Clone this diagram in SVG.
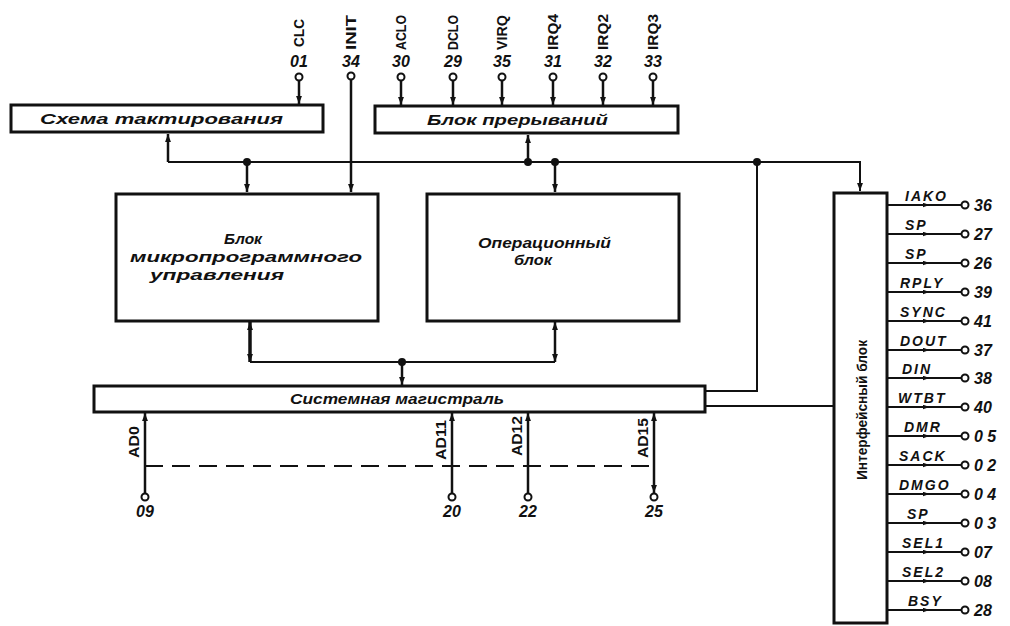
<svg xmlns="http://www.w3.org/2000/svg" width="1010" height="626" viewBox="0 0 1010 626">
<style>
.box{fill:#fff;stroke:#111;stroke-width:3}
.ln{fill:none;stroke:#111;stroke-width:2.5}
.pl{fill:none;stroke:#111;stroke-width:2}
.pin{fill:#fff;stroke:#111;stroke-width:2}
.dot{fill:#111}
.it{font-family:"Liberation Sans",Arial,sans-serif;font-style:italic;font-weight:bold;fill:#111}
.vt{font-family:"Liberation Sans",Arial,sans-serif;font-weight:bold;fill:#111}
.bt{font-size:14px}
.num{font-size:16px}
.rl{font-size:14px;letter-spacing:2px}
</style>
<defs>
<marker id="ah" markerWidth="8" markerHeight="11" refX="11" refY="4" orient="auto-start-reverse" markerUnits="userSpaceOnUse" viewBox="0 0 11 8"><path d="M0,0 L11,4 L0,8 z" fill="#111"/></marker>
<marker id="sm" markerWidth="7" markerHeight="5" refX="3.5" refY="2.5" orient="auto" markerUnits="userSpaceOnUse" viewBox="0 0 7 5"><path d="M0,0 L7,2.5 L0,5 z" fill="#111"/></marker>
</defs>
<rect width="1010" height="626" fill="#fff"/>

<g id="connectors">
  <path class="ln" d="M299,81 V104" marker-end="url(#ah)"/>
  <path class="ln" d="M351,80 V192" marker-end="url(#ah)"/>
  <path class="ln" d="M401,81 V105" marker-end="url(#ah)"/>
  <path class="ln" d="M453,81 V105" marker-end="url(#ah)"/>
  <path class="ln" d="M502,81 V105" marker-end="url(#ah)"/>
  <path class="ln" d="M553,81 V105" marker-end="url(#ah)"/>
  <path class="ln" d="M603,81 V105" marker-end="url(#ah)"/>
  <path class="ln" d="M653,81 V105" marker-end="url(#ah)"/>
  <path class="pl" d="M168,162 H860 V191" marker-end="url(#ah)"/>
  <path class="ln" d="M168,162 V134" marker-end="url(#ah)"/>
  <path class="ln" d="M247,162 V192" marker-end="url(#ah)"/>
  <path class="ln" d="M528,162 V135" marker-end="url(#ah)"/>
  <path class="ln" d="M555,162 V192" marker-end="url(#ah)"/>
  <path class="pl" d="M757,162 V391 H706"/>
  <circle class="dot" cx="247" cy="162" r="4"/>
  <circle class="dot" cx="528" cy="162" r="4"/>
  <circle class="dot" cx="555" cy="162" r="4"/>
  <circle class="dot" cx="757" cy="162" r="4"/>
  <path class="ln" d="M250,322 V362" style="stroke-width:3.5" marker-start="url(#ah)" marker-end="url(#ah)"/>
  <path class="ln" d="M555,322 V362" marker-start="url(#ah)" marker-end="url(#ah)"/>
  <path class="pl" d="M250,362 H555"/>
  <path class="ln" d="M402,362 V385" marker-end="url(#ah)"/>
  <circle class="dot" cx="402" cy="362" r="4"/>
  <path class="pl" d="M706,406 H834"/>
  <path class="ln" d="M145,493 V413" marker-end="url(#ah)"/>
  <path class="ln" d="M452,493 V413" marker-end="url(#ah)"/>
  <path class="ln" d="M528,493 V413" marker-end="url(#ah)"/>
  <path class="ln" d="M654,413 V493" marker-start="url(#ah)" marker-end="url(#ah)"/>
  <path class="pl" d="M145,466 H654" stroke-dasharray="18,9"/>
  <g class="pl">
    <path d="M887,205 H926 H961" marker-mid="url(#sm)"/>
    <path d="M887,234 H926 H961" marker-mid="url(#sm)"/>
    <path d="M887,263 H926 H961" marker-mid="url(#sm)"/>
    <path d="M887,292 H926 H961" marker-mid="url(#sm)"/>
    <path d="M887,321 H926 H961" marker-mid="url(#sm)"/>
    <path d="M887,350 H926 H961" marker-mid="url(#sm)"/>
    <path d="M887,378 H926 H961" marker-mid="url(#sm)"/>
    <path d="M887,407 H926 H961" marker-mid="url(#sm)"/>
    <path d="M887,436 H926 H961" marker-mid="url(#sm)"/>
    <path d="M887,465 H926 H961" marker-mid="url(#sm)"/>
    <path d="M887,494 H926 H961" marker-mid="url(#sm)"/>
    <path d="M887,523 H926 H961" marker-mid="url(#sm)"/>
    <path d="M887,552 H926 H961" marker-mid="url(#sm)"/>
    <path d="M887,581 H926 H961" marker-mid="url(#sm)"/>
    <path d="M887,610 H926 H961" marker-mid="url(#sm)"/>
  </g>
</g>

<g id="pins-top">
  <g class="pin">
    <circle cx="299" cy="77" r="3.5"/><circle cx="351" cy="76" r="3.5"/>
    <circle cx="401" cy="77" r="3.5"/><circle cx="453" cy="77" r="3.5"/>
    <circle cx="502" cy="77" r="3.5"/><circle cx="553" cy="77" r="3.5"/>
    <circle cx="603" cy="77" r="3.5"/><circle cx="653" cy="77" r="3.5"/>
  </g>
  <g class="it num" text-anchor="middle">
    <text x="299" y="67">01</text><text x="351" y="67">34</text>
    <text x="401" y="67">30</text><text x="453" y="67">29</text>
    <text x="502" y="67">35</text><text x="553" y="67">31</text>
    <text x="603" y="67">32</text><text x="653" y="67">33</text>
  </g>
  <g class="vt" font-size="15">
    <text transform="translate(304,47) rotate(-90)" textLength="28" lengthAdjust="spacingAndGlyphs">CLC</text>
    <text transform="translate(356,50) rotate(-90)" textLength="35" lengthAdjust="spacingAndGlyphs">INIT</text>
    <text transform="translate(406,50) rotate(-90)" textLength="35" lengthAdjust="spacingAndGlyphs">ACLO</text>
    <text transform="translate(458,50) rotate(-90)" textLength="35" lengthAdjust="spacingAndGlyphs">DCLO</text>
    <text transform="translate(507,50) rotate(-90)" textLength="35" lengthAdjust="spacingAndGlyphs">VIRQ</text>
    <text transform="translate(558,50) rotate(-90)" textLength="36" lengthAdjust="spacingAndGlyphs">IRQ4</text>
    <text transform="translate(608,50) rotate(-90)" textLength="36" lengthAdjust="spacingAndGlyphs">IRQ2</text>
    <text transform="translate(658,50) rotate(-90)" textLength="36" lengthAdjust="spacingAndGlyphs">IRQ3</text>
  </g>
</g>

<g id="clock">
  <rect class="box" x="11" y="105" width="312" height="27"/>
  <text class="it bt" x="40" y="124" textLength="243" lengthAdjust="spacingAndGlyphs">Схема  тактирования</text>
</g>
<g id="interrupts">
  <rect class="box" x="375" y="106" width="303" height="27"/>
  <text class="it bt" x="427" y="125" textLength="181" lengthAdjust="spacingAndGlyphs">Блок  прерываний</text>
</g>
<g id="microprogram">
  <rect class="box" x="116" y="194" width="262" height="127"/>
  <text class="it bt" x="224" y="244" textLength="38" lengthAdjust="spacingAndGlyphs">Блок</text>
  <text class="it bt" x="130" y="262" textLength="232" lengthAdjust="spacingAndGlyphs">микропрограммного</text>
  <text class="it bt" x="150" y="280" textLength="134" lengthAdjust="spacingAndGlyphs">управления</text>
</g>
<g id="operational">
  <rect class="box" x="427" y="194" width="252" height="127"/>
  <text class="it bt" x="478" y="248" textLength="133" lengthAdjust="spacingAndGlyphs">Операционный</text>
  <text class="it bt" x="514" y="265" textLength="38" lengthAdjust="spacingAndGlyphs">блок</text>
</g>
<g id="sysbus">
  <rect class="box" x="94" y="386" width="611" height="26"/>
  <text class="it bt" x="290" y="404" textLength="214" lengthAdjust="spacingAndGlyphs">Системная  магистраль</text>
</g>
<g id="interface">
  <rect class="box" x="834" y="193" width="53" height="430"/>
  <text class="vt" font-size="15" transform="translate(867,480) rotate(-90)" textLength="140" lengthAdjust="spacingAndGlyphs">Интерфейсный блок</text>
</g>

<g id="pins-right">
  <g class="pin">
    <circle cx="965" cy="205" r="3.5"/><circle cx="965" cy="234" r="3.5"/>
    <circle cx="965" cy="263" r="3.5"/><circle cx="965" cy="292" r="3.5"/>
    <circle cx="965" cy="321" r="3.5"/><circle cx="965" cy="350" r="3.5"/>
    <circle cx="965" cy="378" r="3.5"/><circle cx="965" cy="407" r="3.5"/>
    <circle cx="965" cy="436" r="3.5"/><circle cx="965" cy="465" r="3.5"/>
    <circle cx="965" cy="494" r="3.5"/><circle cx="965" cy="523" r="3.5"/>
    <circle cx="965" cy="552" r="3.5"/><circle cx="965" cy="581" r="3.5"/>
    <circle cx="965" cy="610" r="3.5"/>
  </g>
  <g class="it rl">
    <text x="905" y="201">IAKO</text>
    <text x="905" y="230">SP</text>
    <text x="905" y="259">SP</text>
    <text x="900" y="288">RPLY</text>
    <text x="900" y="317">SYNC</text>
    <text x="900" y="346">DOUT</text>
    <text x="902" y="374">DIN</text>
    <text x="898" y="403">WTBT</text>
    <text x="904" y="432">DMR</text>
    <text x="899" y="461">SACK</text>
    <text x="899" y="490">DMGO</text>
    <text x="907" y="519">SP</text>
    <text x="902" y="548">SEL1</text>
    <text x="902" y="577">SEL2</text>
    <text x="908" y="606">BSY</text>
  </g>
  <g class="it num">
    <text x="974" y="211">36</text><text x="974" y="240">27</text>
    <text x="974" y="269">26</text><text x="974" y="298">39</text>
    <text x="974" y="327">41</text><text x="974" y="356">37</text>
    <text x="974" y="384">38</text><text x="974" y="413">40</text>
    <text x="974" y="442">0 5</text><text x="974" y="471">0 2</text>
    <text x="974" y="500">0 4</text><text x="974" y="529">0 3</text>
    <text x="974" y="558">07</text><text x="974" y="587">08</text>
    <text x="974" y="616">28</text>
  </g>
</g>

<g id="pins-bottom">
  <g class="pin">
    <circle cx="145" cy="497" r="3.5"/><circle cx="452" cy="497" r="3.5"/>
    <circle cx="528" cy="497" r="3.5"/><circle cx="654" cy="497" r="3.5"/>
  </g>
  <g class="it num" text-anchor="middle">
    <text x="145" y="517">09</text><text x="452" y="517">20</text>
    <text x="528" y="517">22</text><text x="654" y="517">25</text>
  </g>
  <g class="vt" font-size="14">
    <text transform="translate(139,458) rotate(-90)" textLength="32" lengthAdjust="spacingAndGlyphs">AD0</text>
    <text transform="translate(446,460) rotate(-90)" textLength="40" lengthAdjust="spacingAndGlyphs">AD11</text>
    <text transform="translate(522,456) rotate(-90)" textLength="40" lengthAdjust="spacingAndGlyphs">AD12</text>
    <text transform="translate(648,458) rotate(-90)" textLength="40" lengthAdjust="spacingAndGlyphs">AD15</text>
  </g>
</g>
</svg>
